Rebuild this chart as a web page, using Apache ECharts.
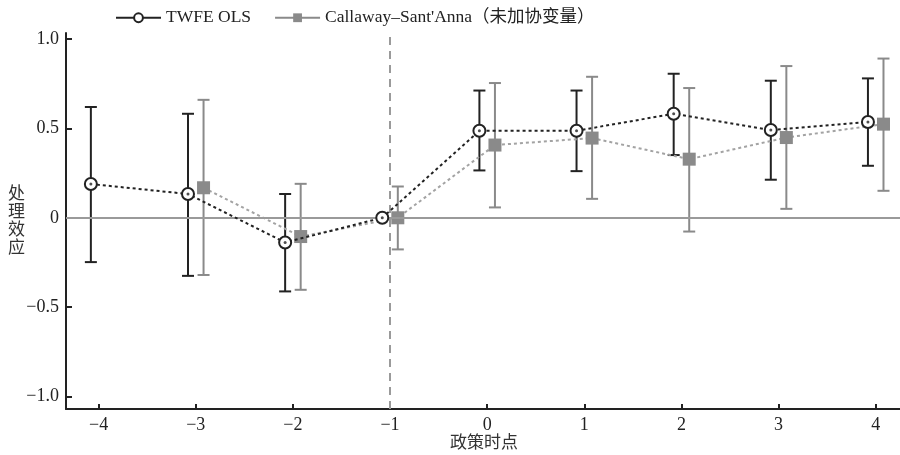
<!DOCTYPE html>
<html>
<head>
<meta charset="utf-8">
<script src="https://cdn.jsdelivr.net/npm/echarts@6/dist/echarts.min.js"></script>
<style>
html,body{margin:0;padding:0;background:#fff;}
#chart{width:900px;height:455px;}
</style>
</head>
<body>
<div id="chart"></div>
<script>
// ---- data ----
const periods = [-4, -3, -2, -1, 0, 1, 2, 3, 4];
const tickValues = [-4, -3, -2, -1, 0, 1, 2, 3, 4];
const yTickValues = [-1, -0.5, 0, 0.5, 1];

const twfeEst = [0.189, 0.133, -0.138, 0, 0.487, 0.487, 0.582, 0.491, 0.536];
const twfeLo  = [-0.248, -0.325, -0.412, null, 0.265, 0.261, 0.351, 0.213, 0.291];
const twfeHi  = [0.62, 0.582, 0.133, null, 0.712, 0.712, 0.806, 0.767, 0.78];

const csEst = [null, 0.168, -0.105, 0, 0.407, 0.446, 0.328, 0.449, 0.524];
const csLo  = [null, -0.32, -0.403, -0.177, 0.058, 0.106, -0.077, 0.05, 0.151];
const csHi  = [null, 0.66, 0.19, 0.175, 0.754, 0.789, 0.726, 0.849, 0.891];

const seriesNames = ['TWFE OLS', 'Callaway–Sant\'Anna（未加协变量）'];
const xName = '政策时点';
const yName = '处理效应';

// ---- build ----
const OFF = 0.08;
const twfePts = [], twfeBars = [], csPts = [], csBars = [];
periods.forEach((p, i) => {
  if (twfeEst[i] != null) twfePts.push([p - OFF, twfeEst[i]]);
  if (twfeLo[i] != null) twfeBars.push([p - OFF, twfeLo[i], twfeHi[i]]);
  if (csEst[i] != null) csPts.push([p + OFF, csEst[i]]);
  if (csLo[i] != null) csBars.push([p + OFF, csLo[i], csHi[i]]);
});

const serif = "'Liberation Serif', 'Times New Roman', 'Noto Sans CJK SC', serif";
const cjk = "'Noto Sans CJK SC', sans-serif";
const BLACK = '#222';
const GRAY = '#8a8a8a';
const LGRAY = '#a3a3a3';

function errRender(color) {
  return function (params, api) {
    const x = api.value(0), lo = api.value(1), hi = api.value(2);
    const a = api.coord([x, hi]), b = api.coord([x, lo]);
    const h = 6;
    const st = { stroke: color, lineWidth: 2 };
    return {
      type: 'group',
      children: [
        { type: 'line', shape: { x1: a[0], y1: a[1], x2: b[0], y2: b[1] }, style: st },
        { type: 'line', shape: { x1: a[0] - h, y1: a[1], x2: a[0] + h, y2: a[1] }, style: st },
        { type: 'line', shape: { x1: b[0] - h, y1: b[1], x2: b[0] + h, y2: b[1] }, style: st }
      ]
    };
  };
}

const fmtNum = v => v === 0 ? '0' : (v < 0 ? '−' : '') + Math.abs(v).toFixed(1);
const fmtInt = v => (v < 0 ? '−' : '') + Math.abs(v);

const chart = echarts.init(document.getElementById('chart'), null, { renderer: 'canvas' });
chart.setOption({
  animation: false,
  backgroundColor: '#fff',
  grid: { left: 66, right: 0, top: 33, bottom: 46, containLabel: false },
  legend: {
    left: 115, top: 9, padding: 0,
    itemWidth: 45, itemHeight: 11, itemGap: 23,
    textStyle: { fontFamily: serif, fontSize: 17.5, color: BLACK },
    data: [
      { name: seriesNames[0], lineStyle: { type: 'solid', width: 2, color: BLACK } },
      { name: seriesNames[1], lineStyle: { type: 'solid', width: 2, color: GRAY } }
    ]
  },
  xAxis: {
    type: 'value', min: -4.336, max: 4.25,
    axisLine: { show: true, onZero: false, lineStyle: { color: BLACK, width: 2 } },
    axisTick: { show: true, inside: true, length: 5, customValues: tickValues, lineStyle: { color: BLACK, width: 2 } },
    axisLabel: { customValues: tickValues, formatter: fmtInt, fontFamily: serif, fontSize: 18, color: BLACK, margin: 7 },
    splitLine: { show: false }
  },
  yAxis: {
    type: 'value', min: -1.07, max: 1.034,
    axisLine: { show: true, onZero: false, lineStyle: { color: BLACK, width: 2 } },
    axisTick: { show: true, inside: true, length: 6, customValues: yTickValues, lineStyle: { color: BLACK, width: 2 } },
    axisLabel: { customValues: yTickValues, formatter: fmtNum, fontFamily: serif, fontSize: 18, color: BLACK, margin: 7 },
    splitLine: { show: false }
  },
  graphic: [
    { type: 'text', left: 8, top: 184, style: { text: yName.split('').join('\n'), font: '17px ' + cjk, lineHeight: 18, fill: '#333' } },
    { type: 'text', left: 450, top: 433, style: { text: xName, font: '17px ' + cjk, fill: '#333' } }
  ],
  series: [
    {
      type: 'custom', name: 'twfe-ci', silent: true, z: 3,
      renderItem: errRender(BLACK), data: twfeBars, encode: { x: 0, y: [1, 2] }
    },
    {
      type: 'custom', name: 'cs-ci', silent: true, z: 3,
      renderItem: errRender(GRAY), data: csBars, encode: { x: 0, y: [1, 2] }
    },
    {
      type: 'line', name: seriesNames[1], data: csPts, z: 4,
      symbol: 'rect', symbolSize: 13, showAllSymbol: true,
      itemStyle: { color: GRAY },
      lineStyle: { color: LGRAY, width: 2, type: [3, 3] },
      markLine: {
        silent: true, symbol: 'none', label: { show: false },
        data: [
          { yAxis: 0, lineStyle: { color: '#9a9a9a', width: 2, type: 'solid' } },
          { xAxis: -1, lineStyle: { color: '#9a9a9a', width: 2, type: [8, 6] } }
        ]
      }
    },
    {
      type: 'line', name: seriesNames[0], data: twfePts, z: 5,
      symbol: 'circle', symbolSize: 12, showAllSymbol: true,
      itemStyle: { color: '#fff', borderColor: BLACK, borderWidth: 2 },
      lineStyle: { color: BLACK, width: 2, type: [3, 3] }
    },
    {
      type: 'scatter', name: 'twfe-dot', data: twfePts, z: 6, silent: true,
      symbol: 'circle', symbolSize: 3, itemStyle: { color: BLACK }
    }
  ]
});
</script>
</body>
</html>
